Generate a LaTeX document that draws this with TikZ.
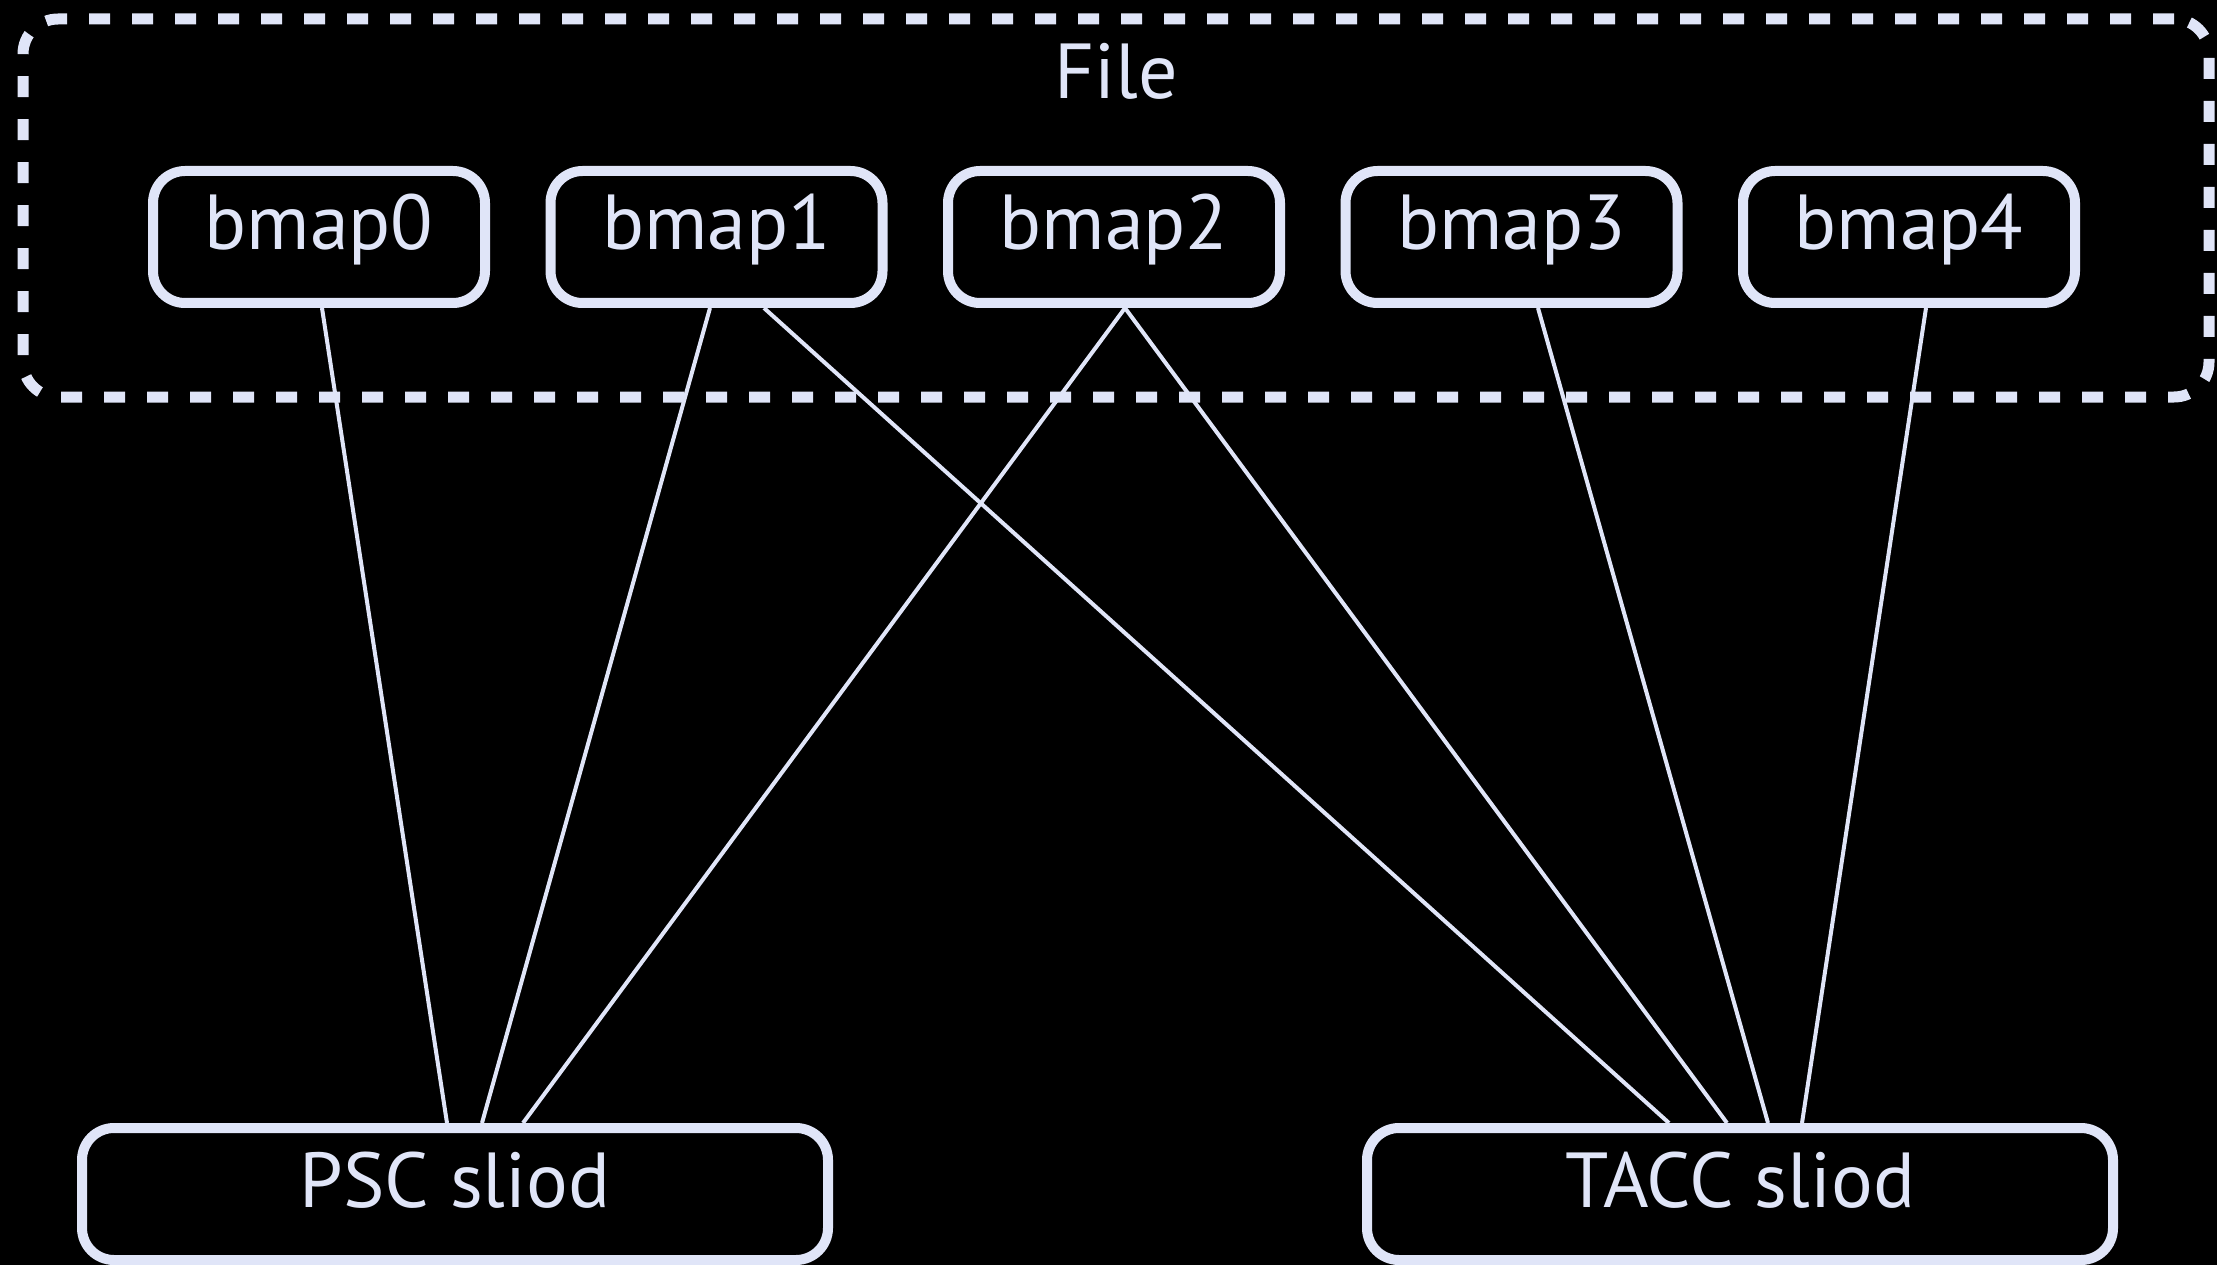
\documentclass[tikz,border=0pt]{standalone}
\usepackage{fontspec}
\setmainfont{PT Sans}
\definecolor{fg}{RGB}{224,229,248}
\begin{document}
\begin{tikzpicture}[x=1pt,y=-1pt,
  bigfont/.style={font=\fontsize{78}{94}\selectfont},
  bmapbox/.style={draw=fg, line width=10pt, rounded corners=32pt, minimum width=332pt, minimum height=132pt,
    text=fg, bigfont, text height=50pt, text depth=24pt, inner sep=0pt},
  sliodbox/.style={bmapbox, minimum width=746pt},
  filebox/.style={draw=fg, line width=11pt, rounded corners=35pt, dash pattern=on 21pt off 22pt,
    minimum width=2186pt, minimum height=378pt, inner sep=0pt},
  link/.style={draw=fg, line width=4pt}
]
\fill[black] (0,0) rectangle (2217,1265);
\useasboundingbox (0,0) rectangle (2217,1265);

\node[filebox] (file) at (1116,208) {};
\node[text=fg, bigfont, anchor=base] (filelbl) at (1116,99) {File};

\node[bmapbox] (b0) at (319,237) {bmap0};
\node[bmapbox] (b1) at (716.5,237) {bmap1};
\node[bmapbox] (b2) at (1114,237) {bmap2};
\node[bmapbox] (b3) at (1511.5,237) {bmap3};
\node[bmapbox] (b4) at (1909,237) {bmap4};

\node[sliodbox] (psc) at (455,1194) {PSC sliod};
\node[sliodbox] (tacc) at (1740,1194) {TACC sliod};

\draw[link] ([xshift=3pt]b0.south) -- ([xshift=-8pt]psc.north);
\draw[link] ([xshift=-6.5pt]b1.south) -- ([xshift=27pt]psc.north);
\draw[link] ([xshift=47.5pt]b1.south) -- ([xshift=-71pt]tacc.north);
\draw[link] ([xshift=11pt]b2.south) -- ([xshift=68pt]psc.north);
\draw[link] ([xshift=11pt]b2.south) -- ([xshift=-13pt]tacc.north);
\draw[link] ([xshift=26.5pt]b3.south) -- ([xshift=28pt]tacc.north);
\draw[link] ([xshift=17pt]b4.south) -- ([xshift=62pt]tacc.north);
\end{tikzpicture}
\end{document}
